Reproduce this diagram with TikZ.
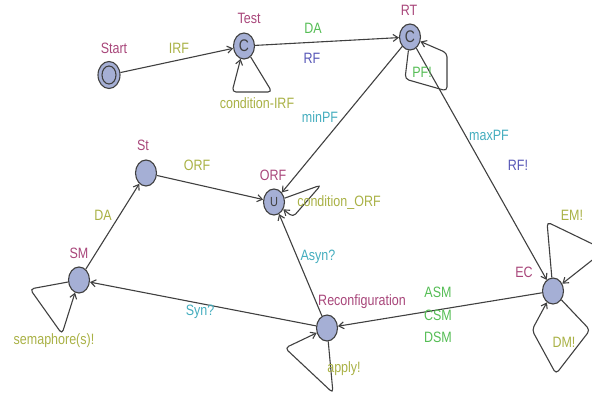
\documentclass[tikz,border=0pt]{standalone}
\usepackage{graphicx}
\usepackage{fontspec}
\setmainfont{Liberation Sans}
\usetikzlibrary{arrows.meta,shapes.geometric}
\definecolor{nodefill}{HTML}{A5AFD5}
\definecolor{edgec}{HTML}{404040}
\definecolor{namec}{HTML}{A8467A}
\definecolor{olivec}{HTML}{A9B145}
\definecolor{greenc}{HTML}{55BD55}
\definecolor{bluec}{HTML}{5656B6}
\definecolor{cyanc}{HTML}{44ADBE}
\newcommand{\stt}[1]{\scalebox{1}[1.2]{#1}}
\tikzset{
  locnode/.style={ellipse, draw=edgec, line width=1.1pt, fill=nodefill,
    minimum width=21pt, minimum height=26pt, inner sep=0pt,
    font=\fontsize{14}{16}\selectfont, text=edgec},
  lbl/.style={anchor=base, inner sep=0pt, font=\fontsize{12.5}{14}\selectfont},
  sname/.style={lbl, text=namec},
  olab/.style={lbl, text=olivec},
  glab/.style={lbl, text=greenc},
  blab/.style={lbl, text=bluec},
  clab/.style={lbl, text=cyanc},
  conn/.style={draw=edgec, line width=1.1pt, -{Straight Barb[length=5pt,width=7pt]}},
  selfloop/.style={conn, rounded corners=4pt},
}
\begin{document}
\begin{tikzpicture}[x=1pt, y=-1pt]
\useasboundingbox (0,0) rectangle (592,399);
\clip (0,0) rectangle (592,399);
% locations
\node[locnode, minimum width=22pt, minimum height=27pt] (start) at (109,75) {};
\draw[edgec, line width=1.1pt] (start.center) ellipse (7pt and 9pt);
\node[locnode] (test) at (244,46) {\stt{C}};
\node[locnode] (rt) at (410,37) {\stt{C}};
\node[locnode] (st) at (146,173) {};
\node[locnode, font=\fontsize{11}{12}\selectfont] (orf) at (274,202) {\stt{U}};
\node[locnode] (sm) at (79,280) {};
\node[locnode] (rec) at (327,328) {};
\node[locnode] (ec) at (553,291) {};
% location names
\node[sname] (nstart) at (114,53) {\stt{Start}};
\node[sname] (ntest) at (249,23) {\stt{Test}};
\node[sname] (nrt) at (409,15) {\stt{RT}};
\node[sname] (nst) at (143,150) {\stt{St}};
\node[sname] (norf) at (273,180) {\stt{ORF}};
\node[sname] (nsm) at (79,258) {\stt{SM}};
\node[sname] (nrec) at (362,305) {\stt{Reconfiguration}};
\node[sname] (nec) at (524,277) {\stt{EC}};
% transitions
\draw[conn] (start) -- (test);
\draw[conn] (test) -- (rt);
\draw[conn] (rt) -- (orf);
\draw[conn] (rt) -- (ec);
\draw[conn] (st) -- (orf);
\draw[conn] (sm) -- (st);
\draw[conn] (rec) -- (sm);
\draw[conn] (rec) -- (orf);
\draw[conn] (ec) -- (rec);
% self loops
\draw[selfloop] (test) -- (272,92) -- (232,92) -- (test);
\draw[selfloop] (rt) -- (405,79) -- (447,91) -- (447,53) -- (rt);
\draw[selfloop] (orf) -- (321,185) -- (293,217) -- (orf);
\draw[selfloop] (sm) -- (30,289) -- (62,334) -- (sm);
\draw[selfloop] (rec) -- (333,393) -- (285,348) -- (rec);
\draw[selfloop] (ec) -- (547,222) -- (605,250) -- (ec);
\draw[selfloop] (ec) -- (590,330) -- (556,374) -- (532,330) -- (ec);
% labels
\node[olab] (lirf) at (179,53) {\stt{IRF}};
\node[olab] (lcirf) at (257,108) {\stt{condition-IRF}};
\node[glab] (lda1) at (313,33) {\stt{DA}};
\node[blab] (lrf) at (312,63) {\stt{RF}};
\node[glab] (lpf) at (422,77) {\stt{PF!}};
\node[clab] (lminpf) at (320,122) {\stt{minPF}};
\node[clab] (lmaxpf) at (489,140) {\stt{maxPF}};
\node[blab] (lrfx) at (518,170) {\stt{RF!}};
\node[olab] (lem) at (572,220) {\stt{EM!}};
\node[olab] (ldm) at (564,347) {\stt{DM!}};
\node[olab] (lorf) at (197,170) {\stt{ORF}};
\node[olab] (lcorf) at (339,206) {\stt{condition\_ORF}};
\node[clab] (lasyn) at (318,260) {\stt{Asyn?}};
\node[olab] (lda2) at (103,220) {\stt{DA}};
\node[olab] (lsem) at (54,344) {\stt{semaphore(s)!}};
\node[clab] (lsyn) at (200,315) {\stt{Syn?}};
\node[olab] (lapply) at (344,372) {\stt{apply!}};
\node[glab] (lasm) at (438,297) {\stt{ASM}};
\node[glab] (lcsm) at (438,320) {\stt{CSM}};
\node[glab] (ldsm) at (438,342) {\stt{DSM}};
\end{tikzpicture}
\end{document}
